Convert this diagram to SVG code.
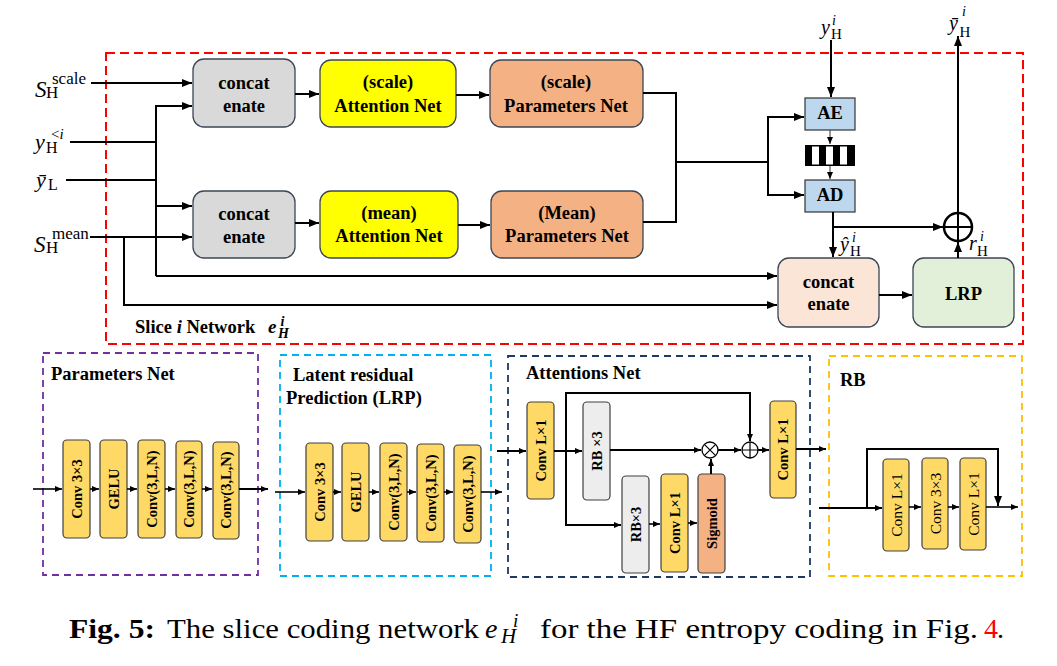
<svg xmlns="http://www.w3.org/2000/svg" width="1057" height="666" viewBox="0 0 1057 666">
<style>
  .t { font-family: "Liberation Serif", "Times New Roman", serif; fill: #000; }
  .b { font-weight: bold; }
  .i { font-style: italic; }
  .lbl { font-family: "Liberation Serif", "Times New Roman", serif; fill: #000; font-size: 18.5px; font-weight: bold; text-anchor: middle; }
  .rot { font-family: "Liberation Serif", "Times New Roman", serif; fill: #000; font-size: 14.5px; font-weight: bold; text-anchor: middle; dominant-baseline: central; }
  .rotr { font-family: "Liberation Serif", "Times New Roman", serif; fill: #000; font-size: 15.5px; text-anchor: middle; dominant-baseline: central; }
  .tbox { stroke: #3b4656; stroke-width: 1.3; }
  .gray { fill: #d9d9d9; }
  .yel { fill: #ffff00; }
  .par { fill: #f4b183; }
  .conv { fill: #ffd966; stroke: #404040; stroke-width: 1.2; }
  .rb { fill: #ededed; stroke: #404040; stroke-width: 1.2; }
  .sig { fill: #f4b183; stroke: #404040; stroke-width: 1.2; }
  .code { fill: #bdd7ee; stroke: #333; stroke-width: 1.2; }
  .c { fill: none; stroke: #000; stroke-width: 2; }
  .cs { fill: none; stroke: #000; stroke-width: 1.6; }
  .ct { fill: none; stroke: #333; stroke-width: 1; }
  .dash { fill: none; stroke-width: 1.8; stroke-dasharray: 7 5; }
</style>
<defs>
  <marker id="ah" markerUnits="userSpaceOnUse" markerWidth="10" markerHeight="8" refX="10" refY="4" orient="auto">
    <path d="M0,0 L10,4 L0,8 z" fill="#000"/>
  </marker>
  <marker id="as" markerUnits="userSpaceOnUse" markerWidth="7" markerHeight="6" refX="7" refY="3" orient="auto">
    <path d="M0,0 L7,3 L0,6 z" fill="#000"/>
  </marker>
</defs>
<rect width="1057" height="666" fill="#fff"/>

<!-- Slice network boundary -->
<rect x="106" y="53" width="917" height="291" fill="none" stroke="#ff0000" stroke-width="2" stroke-dasharray="9 5"/>

<!-- input / output labels -->
<g id="in-scale">
  <text class="t" x="35" y="97" font-size="23"><tspan class="i">S</tspan><tspan x="52" y="84" font-size="17">scale</tspan><tspan x="46" y="98" font-size="17">H</tspan></text>
</g>
<g id="in-yprev">
  <text class="t" x="35" y="149" font-size="22"><tspan class="i">y</tspan><tspan x="51" y="139" font-size="15">&lt;</tspan><tspan class="i" font-size="15">i</tspan><tspan x="46" y="153" font-size="16">H</tspan></text>
</g>
<g id="in-ylow">
  <text class="t" x="36" y="187" font-size="22"><tspan class="i">ȳ</tspan><tspan x="48" y="190" font-size="16">L</tspan></text>
</g>
<g id="in-mean">
  <text class="t" x="34" y="252" font-size="23"><tspan class="i">S</tspan><tspan x="52" y="239" font-size="17">mean</tspan><tspan x="46" y="253" font-size="17">H</tspan></text>
</g>
<g id="in-yH">
  <text class="t" x="821" y="34" font-size="20"><tspan class="i">y</tspan><tspan class="i" x="832" y="25" font-size="14">i</tspan><tspan x="831" y="39" font-size="15">H</tspan></text>
</g>
<g id="out-ybar">
  <text class="t" x="949" y="30" font-size="20"><tspan class="i">ȳ</tspan><tspan class="i" x="962" y="16" font-size="14">i</tspan><tspan x="959.5" y="37" font-size="15">H</tspan></text>
</g>
<g id="lbl-yhat">
  <text class="t" x="840" y="251" font-size="20"><tspan class="i">ŷ</tspan><tspan class="i" x="852" y="242" font-size="14">i</tspan><tspan x="850" y="256" font-size="15">H</tspan></text>
</g>
<g id="lbl-r">
  <text class="t" x="969" y="250" font-size="20"><tspan class="i">r</tspan><tspan class="i" x="980" y="241" font-size="14">i</tspan><tspan x="977" y="256" font-size="15">H</tspan></text>
</g>

<!-- top nodes -->
<g id="concat-top">
  <rect class="tbox gray" x="193" y="59" width="102" height="68" rx="11"/>
  <text class="lbl" x="244" y="89">concat</text>
  <text class="lbl" x="244" y="112">enate</text>
</g>
<g id="concat-bottom">
  <rect class="tbox gray" x="193" y="191" width="102" height="67" rx="11"/>
  <text class="lbl" x="244" y="220">concat</text>
  <text class="lbl" x="244" y="243">enate</text>
</g>
<g id="attn-scale">
  <rect class="tbox yel" x="320" y="60" width="136" height="67" rx="11"/>
  <text class="lbl" x="388" y="88">(scale)</text>
  <text class="lbl" x="388" y="112">Attention Net</text>
</g>
<g id="attn-mean">
  <rect class="tbox yel" x="320" y="191" width="138" height="67" rx="11"/>
  <text class="lbl" x="389" y="219">(mean)</text>
  <text class="lbl" x="389" y="242">Attention Net</text>
</g>
<g id="param-scale">
  <rect class="tbox par" x="490" y="60" width="153" height="67" rx="11"/>
  <text class="lbl" x="566" y="88">(scale)</text>
  <text class="lbl" x="566" y="112">Parameters Net</text>
</g>
<g id="param-mean">
  <rect class="tbox par" x="491" y="191" width="152" height="67" rx="11"/>
  <text class="lbl" x="567" y="219">(Mean)</text>
  <text class="lbl" x="567" y="242">Parameters Net</text>
</g>
<g id="ae">
  <rect class="code" x="805" y="98" width="50" height="32"/>
  <text class="lbl" x="830" y="119" font-size="14">AE</text>
</g>
<g id="bitstream">
  <rect x="805" y="145" width="50" height="21" fill="#000"/>
  <rect x="812" y="146.5" width="7" height="18" fill="#fff"/>
  <rect x="826" y="146.5" width="7" height="18" fill="#fff"/>
  <rect x="840" y="146.5" width="7" height="18" fill="#fff"/>
</g>
<g id="ad">
  <rect class="code" x="805" y="180" width="50" height="32"/>
  <text class="lbl" x="830" y="201" font-size="14">AD</text>
</g>
<g id="sum-top">
  <circle cx="958" cy="227" r="14" fill="#fff" stroke="#000" stroke-width="2.5"/>
  <path d="M944,227 H972 M958,213 V241" stroke="#000" stroke-width="2"/>
</g>
<g id="concat-right">
  <rect class="tbox" fill="#fbe5d6" x="778" y="258" width="101" height="69" rx="11"/>
  <text class="lbl" x="828.5" y="288">concat</text>
  <text class="lbl" x="828.5" y="310">enate</text>
</g>
<g id="lrp">
  <rect class="tbox" fill="#e2f0d9" x="913" y="258" width="101" height="69" rx="11"/>
  <text class="lbl" x="963.5" y="300">LRP</text>
</g>
<g id="slice-label">
  <text class="t b" x="135" y="333" font-size="18.5">Slice <tspan class="i">i</tspan> Network<tspan class="i" x="268" y="333" font-size="19">e</tspan><tspan class="i" x="280.5" y="326" font-size="14">i</tspan><tspan class="i" x="278" y="338" font-size="14">H</tspan></text>
</g>

<!-- top connectors -->
<g id="connectors-top">
  <path class="c" d="M91,83 H192" marker-end="url(#ah)"/>
  <path class="c" d="M70,142 H156"/>
  <path class="c" d="M66,180 H156"/>
  <path class="c" d="M156,276 V106 H192" marker-end="url(#ah)"/>
  <path class="c" d="M156,206 H192" marker-end="url(#ah)"/>
  <path class="c" d="M156,276 H777" marker-end="url(#ah)"/>
  <path class="c" d="M90,237 H192" marker-end="url(#ah)"/>
  <path class="c" d="M124,237 V305 H777" marker-end="url(#ah)"/>
  <path class="c" d="M295,94 H319" marker-end="url(#ah)"/>
  <path class="c" d="M295,223 H319" marker-end="url(#ah)"/>
  <path class="c" d="M456,95 H489" marker-end="url(#ah)"/>
  <path class="c" d="M458,225 H490" marker-end="url(#ah)"/>
  <path class="c" d="M643,93 H676 V222 H643"/>
  <path class="c" d="M676,162 H768"/>
  <path class="c" d="M768,162 V117 H804" marker-end="url(#ah)"/>
  <path class="c" d="M768,162 V195 H804" marker-end="url(#ah)"/>
  <path class="c" d="M831,40 V97" marker-end="url(#ah)"/>
  <path class="ct" d="M830,130 V144" marker-end="url(#as)"/>
  <path class="ct" d="M830,166 V179" marker-end="url(#as)"/>
  <path class="c" d="M833,212 V257" marker-end="url(#ah)"/>
  <path class="c" d="M833,227 H943" marker-end="url(#ah)"/>
  <path class="c" d="M958,258 V242" marker-end="url(#ah)"/>
  <path class="c" d="M958,213 V36" marker-end="url(#ah)"/>
  <path class="c" d="M879,295 H912" marker-end="url(#ah)"/>
</g>

<!-- Parameters Net panel -->
<g id="panel-params">
  <rect class="dash" stroke="#7030a0" x="43" y="353" width="215" height="222"/>
  <text class="t b" x="51" y="380" font-size="18.5">Parameters Net</text>
  <rect class="conv" x="63" y="440" width="27" height="98" rx="4"/>
  <text class="rot" transform="translate(76.5,489) rotate(-90)">Conv 3×3</text>
  <rect class="conv" x="100" y="440" width="27" height="98" rx="4"/>
  <text class="rot" transform="translate(113.5,489) rotate(-90)">GELU</text>
  <rect class="conv" x="138" y="440" width="27" height="98" rx="4"/>
  <text class="rot" transform="translate(151.5,489) rotate(-90)">Conv(3,L,N)</text>
  <rect class="conv" x="176" y="441" width="26" height="97" rx="4"/>
  <text class="rot" transform="translate(189,489) rotate(-90)">Conv(3,L,N)</text>
  <rect class="conv" x="213" y="442" width="26" height="97" rx="4"/>
  <text class="rot" transform="translate(226,490) rotate(-90)">Conv(3,L,N)</text>
</g>

<!-- LRP panel -->
<g id="panel-lrp">
  <rect class="dash" stroke="#00b0f0" x="280" y="355" width="211" height="221"/>
  <text class="t b" x="293" y="381" font-size="18.5">Latent residual</text>
  <text class="t b" x="286" y="404" font-size="18.5">Prediction (LRP)</text>
  <rect class="conv" x="306" y="443" width="27" height="98" rx="4"/>
  <text class="rot" transform="translate(319.5,492) rotate(-90)">Conv 3×3</text>
  <rect class="conv" x="342" y="443" width="27" height="98" rx="4"/>
  <text class="rot" transform="translate(355.5,492) rotate(-90)">GELU</text>
  <rect class="conv" x="380" y="443" width="27" height="98" rx="4"/>
  <text class="rot" transform="translate(393.5,492) rotate(-90)">Conv(3,L,N)</text>
  <rect class="conv" x="417" y="444" width="27" height="98" rx="4"/>
  <text class="rot" transform="translate(430.5,493) rotate(-90)">Conv(3,L,N)</text>
  <rect class="conv" x="454" y="445" width="27" height="98" rx="4"/>
  <text class="rot" transform="translate(467.5,494) rotate(-90)">Conv(3,L,N)</text>
</g>

<!-- Attentions Net panel -->
<g id="panel-attn">
  <rect class="dash" stroke="#1f3864" x="508" y="356" width="302" height="221"/>
  <text class="t b" x="526" y="379" font-size="18.5">Attentions Net</text>
  <rect class="conv" x="527" y="402" width="27" height="97" rx="4"/>
  <text class="rot" transform="translate(540.5,450.5) rotate(-90)" font-size="15">Conv L×1</text>
  <rect class="rb" x="583" y="402" width="27" height="98" rx="4"/>
  <text class="rot" transform="translate(596.5,451) rotate(-90)" font-size="15.5">RB ×3</text>
  <rect class="rb" x="622" y="476" width="27" height="97" rx="4"/>
  <text class="rot" transform="translate(635.5,524.5) rotate(-90)" font-size="15.5">RB×3</text>
  <rect class="conv" x="661" y="474" width="27" height="98" rx="4"/>
  <text class="rot" transform="translate(674.5,523) rotate(-90)" font-size="15">Conv L×1</text>
  <rect class="sig" x="698" y="474" width="27" height="99" rx="4"/>
  <text class="rot" transform="translate(711.5,523.5) rotate(-90)" font-size="13.5">Sigmoid</text>
  <rect class="conv" x="770" y="401" width="26" height="97" rx="4"/>
  <text class="rot" transform="translate(783,449.5) rotate(-90)" font-size="15">Conv L×1</text>
  <circle cx="710" cy="450" r="8" fill="#fff" stroke="#000" stroke-width="1.3"/>
  <path d="M704.3,444.3 L715.7,455.7 M715.7,444.3 L704.3,455.7" stroke="#000" stroke-width="1.2"/>
  <circle cx="750" cy="450" r="8" fill="#fff" stroke="#000" stroke-width="1.3"/>
  <path d="M742,450 H758 M750,442 V458" stroke="#000" stroke-width="1.2"/>
</g>

<!-- RB panel -->
<g id="panel-rb">
  <rect class="dash" stroke="#ffc000" x="829" y="356" width="193" height="220"/>
  <text class="t b" x="840" y="386" font-size="18.5">RB</text>
  <rect class="conv" x="883" y="459" width="26" height="92" rx="4"/>
  <text class="rotr" transform="translate(896,505) rotate(-90)">Conv L×1</text>
  <rect class="conv" x="922" y="458" width="26" height="91" rx="4"/>
  <text class="rotr" transform="translate(935,503.5) rotate(-90)">Conv 3×3</text>
  <rect class="conv" x="960" y="458" width="26" height="92" rx="4"/>
  <text class="rotr" transform="translate(973,504) rotate(-90)">Conv L×1</text>
</g>

<!-- bottom connectors -->
<g id="connectors-bottom">
  <path class="cs" d="M33,489 H62" marker-end="url(#as)"/>
  <path class="cs" d="M90,489 H99" marker-end="url(#as)"/>
  <path class="cs" d="M127,489 H137" marker-end="url(#as)"/>
  <path class="cs" d="M165,489 H175" marker-end="url(#as)"/>
  <path class="cs" d="M202,489 H212" marker-end="url(#as)"/>
  <path class="c" d="M239,489 H268" marker-end="url(#as)"/>

  <path class="cs" d="M275,492 H305" marker-end="url(#as)"/>
  <path class="cs" d="M333,492 H341" marker-end="url(#as)"/>
  <path class="cs" d="M369,492 H379" marker-end="url(#as)"/>
  <path class="cs" d="M407,492 H416" marker-end="url(#as)"/>
  <path class="cs" d="M444,492 H453" marker-end="url(#as)"/>
  <path class="cs" d="M481,492 H502" marker-end="url(#as)"/>

  <path class="c" d="M497,451 H526" marker-end="url(#as)"/>
  <path class="c" d="M554,451 H582" marker-end="url(#as)"/>
  <path class="c" d="M566,451 V393 H750 V441" marker-end="url(#as)"/>
  <path class="c" d="M566,451 V525 H621" marker-end="url(#as)"/>
  <path class="c" d="M610,450 H701" marker-end="url(#as)"/>
  <path class="c" d="M718,450 H741" marker-end="url(#as)"/>
  <path class="c" d="M711,474 V459" marker-end="url(#as)"/>
  <path class="c" d="M758,450 H769" marker-end="url(#as)"/>
  <path class="cs" d="M649,524 H660" marker-end="url(#as)"/>
  <path class="cs" d="M688,523 H697" marker-end="url(#as)"/>
  <path class="c" d="M796,449 H826" marker-end="url(#as)"/>

  <path class="c" d="M819,508 H882" marker-end="url(#as)"/>
  <path class="c" d="M867,508 V449 H998 V506" marker-end="url(#ah)"/>
  <path class="cs" d="M909,507 H921" marker-end="url(#as)"/>
  <path class="cs" d="M948,507 H959" marker-end="url(#as)"/>
  <path class="cs" d="M986,507 H1018" marker-end="url(#as)"/>
</g>

<!-- caption -->
<g id="caption">
  <text class="t b" x="69" y="638" font-size="28" textLength="86" lengthAdjust="spacingAndGlyphs">Fig. 5:</text>
  <text class="t" x="167" y="638" font-size="28" textLength="312" lengthAdjust="spacingAndGlyphs">The slice coding network</text>
  <text class="t" x="485" y="638" font-size="28"><tspan class="i">e</tspan><tspan class="i" x="513" y="627" font-size="19">i</tspan><tspan class="i" x="501" y="643" font-size="21">H</tspan></text>
  <text class="t" x="540" y="638" font-size="28" textLength="438" lengthAdjust="spacingAndGlyphs">for the HF entropy coding in Fig.</text>
  <text class="t" x="984" y="638" font-size="28"><tspan fill="#ff0000">4</tspan><tspan x="997">.</tspan></text>
</g>
</svg>
